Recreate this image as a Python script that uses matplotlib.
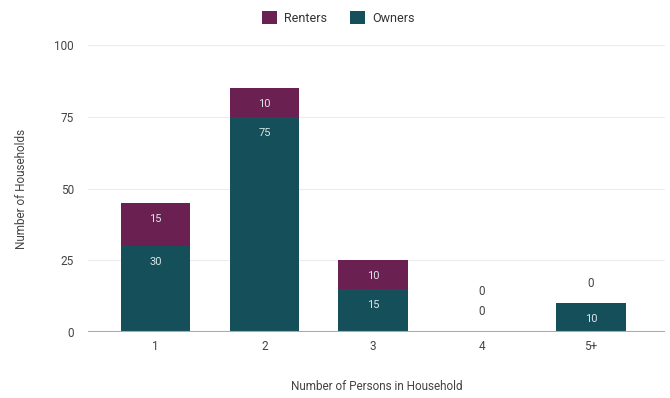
import numpy as np
import matplotlib.pyplot as plt

plt.rcParams['font.family'] = ['Roboto', 'DejaVu Sans']

categories = ['1', '2', '3', '4', '5+']
owners = [30, 75, 15, 0, 10]
renters = [15, 10, 10, 0, 0]

c_own = '#15505a'
c_rent = '#6a2050'

fig = plt.figure(figsize=(6.7, 3.98), dpi=100)
ax = fig.add_axes([88/670, 1-332/398, (665-88)/670, (332-45)/398])

x = np.arange(len(categories))
w = 0.64
ax.bar(x, owners, w, color=c_own, label='Owners', zorder=3)
ax.bar(x, renters, w, bottom=owners, color=c_rent, label='Renters', zorder=3)

# value labels, zeros sit above the stack
for i in range(len(categories)):
    used = 0
    for val, base in [(owners[i], 0), (renters[i], owners[i])]:
        if val > 0:
            ax.text(x[i], base + val - 5.5, str(val), ha='center', va='center',
                    color='#d8e6e8', fontsize=8, zorder=4)
        else:
            y = max(base, used) + 7
            ax.text(x[i], y, str(val), ha='center', va='center',
                    color='#444444', fontsize=8.5, zorder=4)
            used = y

ax.set_xlim(-0.62, 4.68)
ax.set_ylim(0, 100)
ax.set_yticks([0, 25, 50, 75, 100])
ax.set_xticks(x)
ax.set_xticklabels(categories)
ax.tick_params(length=0, colors='#444444', labelsize=8.5)
ax.tick_params(axis='y', pad=10)
ax.tick_params(axis='x', pad=6)
ax.grid(axis='y', color='#ececec', lw=0.8, zorder=0)
for s in ax.spines.values():
    s.set_visible(False)
ax.axhline(0, color='#aaaaaa', lw=1.5, zorder=5)

ax.set_xlabel('Number of Persons in Household', fontsize=8.5, color='#444444', labelpad=19)
ax.set_ylabel('Number of Households', fontsize=8.5, color='#444444', labelpad=19)

h, l = ax.get_legend_handles_labels()
fig.legend(h[::-1], l[::-1], loc='upper center', bbox_to_anchor=(0.505, 1.0), ncol=2,
           frameon=False, fontsize=9, handlelength=1.2, handleheight=1.2,
           columnspacing=1.8, handletextpad=0.6, labelcolor='#333333')

fig.savefig('out.png', dpi=100)
